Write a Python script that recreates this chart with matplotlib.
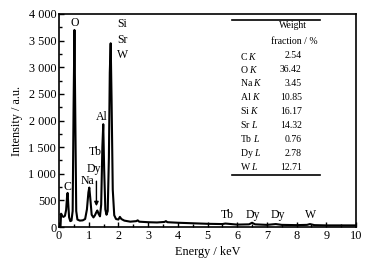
import matplotlib
matplotlib.use("Agg")
import matplotlib.pyplot as plt
from matplotlib.ticker import MultipleLocator, FuncFormatter

plt.rcParams['font.family'] = ['Liberation Serif', 'DejaVu Serif']
plt.rcParams['mathtext.fontset'] = 'custom'
plt.rcParams['mathtext.rm'] = 'Liberation Serif'
plt.rcParams['mathtext.it'] = 'Liberation Serif:italic'

# EDS spectrum
energy = [0.00, 0.05, 0.07, 0.10, 0.15, 0.20, 0.24, 0.27, 0.29, 0.31, 0.34, 0.38, 0.42,
          0.46, 0.49, 0.52, 0.55, 0.58, 0.62, 0.70, 0.80, 0.88, 0.94, 0.99, 1.02, 1.05,
          1.10, 1.16, 1.21, 1.25, 1.29, 1.33, 1.38, 1.42, 1.46, 1.49, 1.52, 1.56, 1.60,
          1.64, 1.68, 1.71, 1.74, 1.77, 1.81, 1.86, 1.92, 2.00, 2.05, 2.10, 2.20, 2.40,
          2.60, 2.65, 2.70, 3.00, 3.30, 3.55, 3.60, 3.65, 4.00, 4.50, 5.00, 5.50, 5.60,
          6.00, 6.40, 6.50, 6.60, 7.00, 7.30, 7.50, 8.00, 8.35, 8.45, 8.60, 9.00, 9.50, 10.00]
counts = [0, 0, 250, 210, 190, 210, 320, 560, 640, 450, 180, 110, 120,
          300, 2200, 3700, 2000, 300, 140, 120, 125, 150, 330, 650, 740, 560,
          230, 180, 220, 270, 310, 250, 200, 420, 1500, 1930, 1100, 330, 230,
          300, 1300, 2900, 3450, 2400, 700, 220, 150, 140, 190, 150, 120, 100,
          110, 125, 100, 90, 85, 95, 110, 90, 80, 70, 60, 55, 65,
          45, 50, 80, 50, 40, 55, 40, 35, 40, 55, 35, 30, 30, 30]

# Peak labels
peak_labels = ['O', 'Si', 'Sr', 'W', 'Al', 'Tb', 'Dy', 'Na', 'C', 'Tb', 'Dy', 'Dy', 'W']
peak_x = [0.54, 1.96, 1.96, 1.96, 1.44, 1.21, 1.16, 0.95, 0.28, 5.68, 6.52, 7.38, 8.48]
peak_y = [3830, 3810, 3517, 3230, 2070, 1400, 1090, 864, 757, 225, 225, 225, 225]
peak_ha = ['center', 'left', 'left', 'left', 'center', 'center', 'center', 'center',
           'center', 'center', 'center', 'center', 'center']

# Table
elements = [r'C $K$', r'O $K$', r'Na $K$', r'Al $K$', r'Si $K$', r'Sr $L$', r'Tb $L$',
            r'Dy $L$', r'W $L$']
fractions = ['2.54', '36.42', '3.45', '10.85', '16.17', '14.32', '0.76', '2.78', '12.71']

W, H = 373, 265
fig = plt.figure(figsize=(W / 100, H / 100), dpi=100)
ax = fig.add_axes([59 / W, 1 - 227 / H, (356 - 59) / W, (227 - 14) / H])

ax.plot(energy, counts, color='black', lw=1.5)
ax.set_xlim(0, 10)
ax.set_ylim(0, 4000)

ax.xaxis.set_major_locator(MultipleLocator(1))
ax.xaxis.set_minor_locator(MultipleLocator(0.5))
ax.yaxis.set_major_locator(MultipleLocator(500))
ax.yaxis.set_minor_locator(MultipleLocator(250))
ax.yaxis.set_major_formatter(FuncFormatter(lambda v, p: f"{int(v):,}".replace(',', ' ')))
ax.tick_params(which='both', direction='in', labelsize=8.8, top=False, right=False,
               width=1.0, pad=2)
ax.tick_params(which='major', length=3.5)
ax.tick_params(which='minor', length=2)
for s in ax.spines.values():
    s.set_linewidth(1.2)

ax.set_xlabel('Energy / keV', fontsize=8.8, labelpad=3)
ax.set_ylabel('Intensity / a.u.', fontsize=8.8, labelpad=4)

for t, x, y, ha in zip(peak_labels, peak_x, peak_y, peak_ha):
    ax.text(x, y, t, ha=ha, va='center', fontsize=8.5)

ax.annotate('', xy=(1.26, 390), xytext=(1.26, 860),
            arrowprops=dict(arrowstyle='-|>', color='black', lw=1.0,
                            mutation_scale=6, shrinkA=0, shrinkB=0))

def fx(px):
    return (px - 59) / 297

def fy(py):
    return (227 - py) / 213

ax.plot([fx(231.7), fx(320)], [fy(20), fy(20)], color='black', lw=1.2,
        transform=ax.transAxes)
ax.plot([fx(231.7), fx(320)], [fy(175), fy(175)], color='black', lw=1.2,
        transform=ax.transAxes)
ax.text(fx(293), fy(26), 'Weight', transform=ax.transAxes, ha='center', va='center',
        fontsize=7)
ax.text(fx(294), fy(41.7), 'fraction / %', transform=ax.transAxes, ha='center',
        va='center', fontsize=7)
row_y = [56, 69.5, 83, 97, 111, 125, 139, 153, 167]
for e, f, ry in zip(elements, fractions, row_y):
    ax.text(fx(240), fy(ry), e, transform=ax.transAxes, ha='left', va='center',
            fontsize=7)
    ax.text(fx(301.7), fy(ry), f, transform=ax.transAxes, ha='right', va='center',
            fontsize=7)

fig.savefig('out.png', dpi=100)
